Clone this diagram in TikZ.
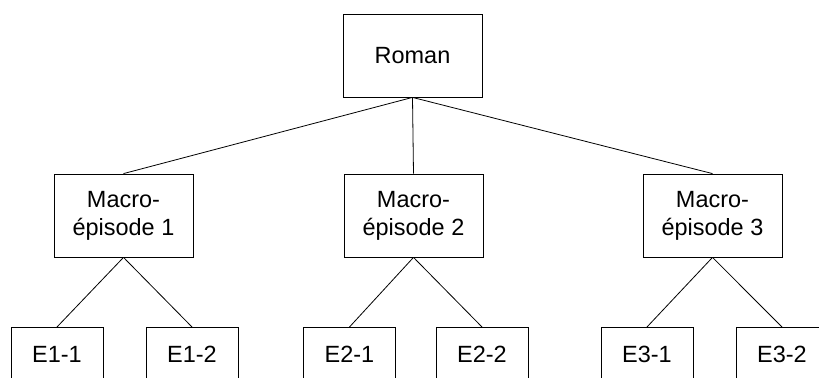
\documentclass[tikz,border=0pt]{standalone}
\usepackage{fontspec}
\setmainfont{Liberation Sans}
\begin{document}
\begin{tikzpicture}[x=0.75pt,y=-0.75pt,
  every node/.style={font=\fontsize{17.6}{21}\selectfont},
  box/.style={draw=black, line width=0.6pt, minimum width=104.25pt, minimum height=62.25pt, inner sep=0pt, align=center},
  leaf/.style={draw=black, line width=0.6pt, anchor=north, minimum width=69pt, inner sep=0pt, text height=26.25pt, text depth=36pt},
  link/.style={line width=0.6pt}]
  \useasboundingbox (0,0) rectangle (819,378);
  \clip (0,0) rectangle (819,378);

  % root
  \node[box] (roman) at (412.5,55.5) {Roman};

  % macro-episodes
  \node[box] (m1) at (123.5,215.5) {Macro-\\épisode 1};
  \node[box] (m2) at (413.5,215.5) {Macro-\\épisode 2};
  \node[box] (m3) at (712.5,215.5) {Macro-\\épisode 3};

  % episodes
  \node[leaf] (e11) at (57,327)  {E1-1};
  \node[leaf] (e12) at (192,327) {E1-2};
  \node[leaf] (e21) at (349.5,327) {E2-1};
  \node[leaf] (e22) at (482,327) {E2-2};
  \node[leaf] (e31) at (647,327) {E3-1};
  \node[leaf] (e32) at (782,327) {E3-2};

  % tree edges
  \foreach \m in {m1,m2,m3} \draw[link] (roman.south) -- (\m.north);
  \draw[link] (m1.south) -- (e11.north);
  \draw[link] (m1.south) -- (e12.north);
  \draw[link] (m2.south) -- (e21.north);
  \draw[link] (m2.south) -- (e22.north);
  \draw[link] (m3.south) -- (e31.north);
  \draw[link] (m3.south) -- (e32.north);
\end{tikzpicture}
\end{document}
